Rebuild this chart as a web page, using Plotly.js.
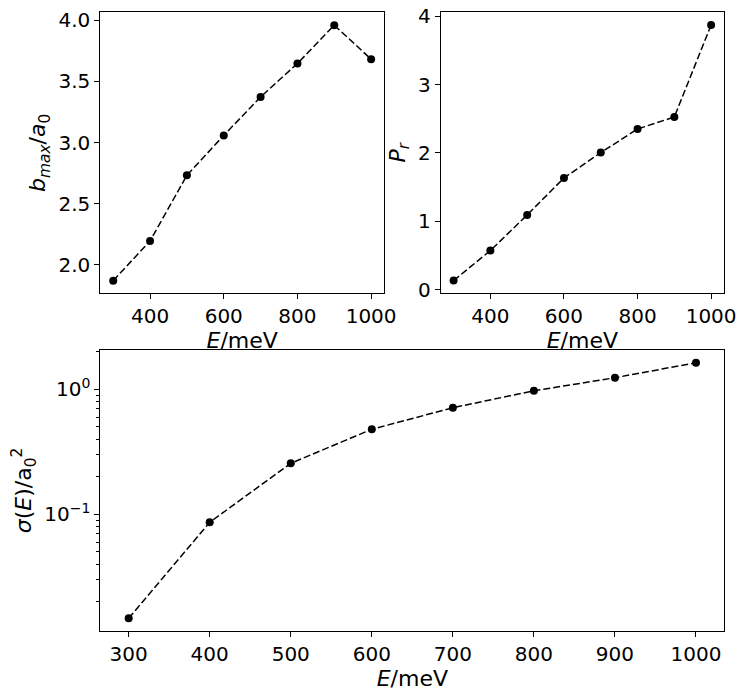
<!DOCTYPE html>
<html>
<head>
<meta charset="utf-8">
<script src="https://cdn.plot.ly/plotly-3.0.1.min.js"></script>
<style>
  html, body { margin: 0; padding: 0; background: #fff; }
  #chart { width: 748px; height: 695px; }
</style>
</head>
<body>
<div id="chart"></div>
<script>
document.addEventListener('DOMContentLoaded', function() {
    // energies in meV
    const energy = [300, 400, 500, 600, 700, 800, 900, 1000];
    // maximum impact parameter, in units of a0
    const bMax = [1.872, 2.196, 2.732, 3.058, 3.372, 3.645, 3.958, 3.680];
    // P_r
    const pR = [0.136, 0.574, 1.095, 1.635, 2.005, 2.350, 2.526, 3.869];
    // cross section, in units of a0^2
    const sigma = [0.0147, 0.0863, 0.256, 0.479, 0.713, 0.974, 1.239, 1.633];

    const tickFont = { family: 'DejaVu Sans, sans-serif', size: 20, color: '#000' };
    const titleFont = { family: 'DejaVu Sans, sans-serif', size: 22, color: '#000' };

    function series(y, xa, ya) {
        return {
            x: energy, y: y, xaxis: xa, yaxis: ya,
            type: 'scatter', mode: 'lines+markers',
            line: { color: '#000', width: 1.5, dash: '7px,3px' },
            marker: { color: '#000', size: 8 },
            showlegend: false
        };
    }

    const data = [
        series(bMax, 'x', 'y'),
        series(pR, 'x2', 'y2'),
        series(sigma, 'x3', 'y3')
    ];

    const axisBase = {
        showline: true, mirror: true, linecolor: '#000', linewidth: 1,
        ticks: 'outside', ticklen: 5, tickwidth: 1, tickcolor: '#000',
        showgrid: false, zeroline: false, tickfont: tickFont
    };

    const xTitle = { text: '<i>E</i>/meV', font: titleFont, standoff: 0 };

    const layout = {
        width: 748, height: 695,
        margin: { l: 0, r: 0, t: 0, b: 0 },
        paper_bgcolor: '#fff', plot_bgcolor: '#fff',
        font: tickFont,
        xaxis: Object.assign({}, axisBase, {
            domain: [0.1341, 0.5134], anchor: 'y',
            range: [265, 1035], dtick: 200, tick0: 0,
            title: xTitle
        }),
        yaxis: Object.assign({}, axisBase, {
            domain: [0.578, 0.9823], anchor: 'x',
            range: [1.769, 4.063], dtick: 0.5, tick0: 0, tickformat: '.1f',
            title: { text: '<i>b<sub>max</sub></i>/<i>a</i><sub>0</sub>', font: titleFont, standoff: 6 }
        }),
        xaxis2: Object.assign({}, axisBase, {
            domain: [0.5892, 0.9679], anchor: 'y2',
            range: [265, 1035], dtick: 200, tick0: 0,
            title: xTitle
        }),
        yaxis2: Object.assign({}, axisBase, {
            domain: [0.578, 0.9823], anchor: 'x2',
            range: [-0.05, 4.055], dtick: 1, tick0: 0,
            title: { text: '<i>P<sub>r</sub></i>', font: titleFont, standoff: 6 }
        }),
        xaxis3: Object.assign({}, axisBase, {
            domain: [0.1341, 0.9684], anchor: 'y3',
            range: [265, 1035], dtick: 100, tick0: 0,
            title: xTitle
        }),
        yaxis3: Object.assign({}, axisBase, {
            domain: [0.0921, 0.4964], anchor: 'x3',
            type: 'log', range: [-1.934, 0.315],
            tickmode: 'array', tickvals: [0.1, 1],
            ticktext: ['10<sup>\u22121</sup>', '10<sup>0</sup>'],
            minor: { ticks: 'outside', ticklen: 3, tickcolor: '#000', dtick: 'D1', showgrid: false },
            title: { text: '<i>\u03c3</i>(<i>E</i>)/a<sub>0</sub><sup>2</sup>', font: titleFont, standoff: 6 }
        })
    };

    Plotly.newPlot('chart', data, layout, { staticPlot: true, displayModeBar: false });
});
</script>
</body>
</html>
